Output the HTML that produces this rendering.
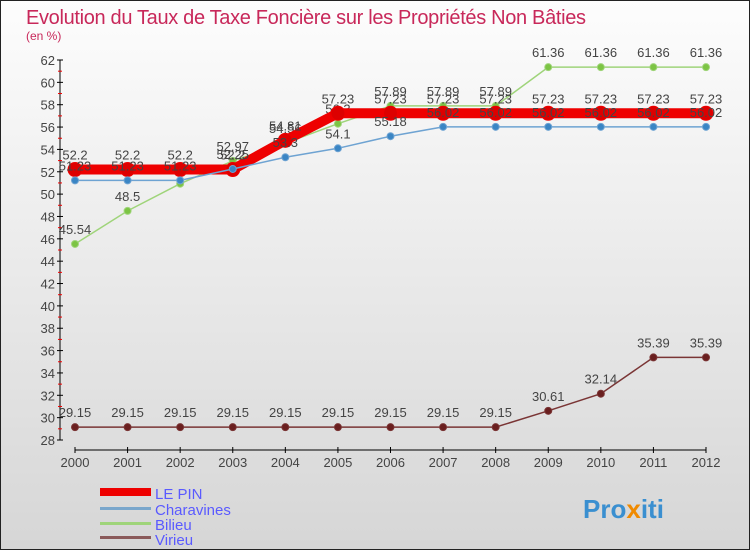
<!DOCTYPE html>
<html><head><meta charset="utf-8"><style>
body{margin:0;width:750px;height:550px;overflow:hidden;font-family:"Liberation Sans",sans-serif}
</style></head><body>
<svg id="chart" width="750" height="550" xmlns="http://www.w3.org/2000/svg">
<defs><linearGradient id="bg" x1="0" y1="0" x2="0" y2="1"><stop offset="0" stop-color="#fdfdfd"/><stop offset="1" stop-color="#d6d6d6"/></linearGradient></defs>
<rect x="0.5" y="0.5" width="749" height="549" fill="url(#bg)" stroke="#222"/>
<text x="26" y="24" font-size="20" fill="#c8285a" textLength="560" font-weight="300">Evolution du Taux de Taxe Foncière sur les Propriétés Non Bâties</text>
<text x="26" y="40" font-size="12" fill="#c8285a">(en %)</text>
<g id="axes"></g><g id="series"></g>
<g>
<rect x="100" y="488" width="51" height="8" fill="#e00"/>
<text x="155" y="499" font-size="15" fill="#5a5aff">LE PIN</text>
<rect x="100" y="507" width="51" height="3" fill="#7aa7cc"/>
<text x="155" y="515" font-size="15" fill="#5a5aff">Charavines</text>
<rect x="100" y="522" width="51" height="3" fill="#9fd47a"/>
<text x="155" y="530" font-size="15" fill="#5a5aff">Bilieu</text>
<rect x="100" y="536" width="51" height="3" fill="#8a5a5a"/>
<text x="155" y="545" font-size="15" fill="#5a5aff">Virieu</text>
</g>
<text x="583" y="518" font-size="26" font-weight="bold" fill="#3a8fd0">Pro<tspan fill="#f08a00">x</tspan>iti</text>
</svg>
<script>
const years=[2000,2001,2002,2003,2004,2005,2006,2007,2008,2009,2010,2011,2012];
const lePin=[52.2,52.2,52.2,52.2,54.81,57.23,57.23,57.23,57.23,57.23,57.23,57.23,57.23];
const charavines=[51.23,51.23,51.23,52.25,53.3,54.1,55.18,56.02,56.02,56.02,56.02,56.02,56.02];
const bilieu=[45.54,48.5,50.93,52.97,54.56,56.3,57.89,57.89,57.89,61.36,61.36,61.36,61.36];
const virieu=[29.15,29.15,29.15,29.15,29.15,29.15,29.15,29.15,29.15,30.61,32.14,35.39,35.39];
const yTicks=[28,30,32,34,36,38,40,42,44,46,48,50,52,54,56,58,60,62];
const NS="http://www.w3.org/2000/svg";
const xs=i=>75+i*(706-75)/(years.length-1);
const ys=v=>440-(v-28)*(380/34);
function mk(t,a,p){const e=document.createElementNS(NS,t);for(const k in a)e.setAttribute(k,a[k]);p.appendChild(e);return e;}
const ax=document.getElementById('axes');
const yl=mk('line',{x1:60,y1:ys(62),x2:60,y2:ys(28),stroke:'#000'},ax);


yTicks.forEach(v=>{
 mk('line',{x1:57,x2:63,y1:ys(v),y2:ys(v),stroke:'#000'},ax);
 if(v<62)mk('line',{x1:58,x2:62,y1:ys(v+1),y2:ys(v+1),stroke:'#e00'},ax);
 const t=mk('text',{x:55,y:ys(v)+5,'font-size':13,fill:'#444','text-anchor':'end'},ax);t.textContent=v;
 
 
});
const xl=mk('line',{x1:75,y1:450,x2:706,y2:450,stroke:'#000'},ax);


years.forEach((y,i)=>{
 mk('line',{x1:xs(i),x2:xs(i),y1:447,y2:453,stroke:'#000'},ax);
 const t=mk('text',{x:xs(i),y:467,'font-size':13,fill:'#444','text-anchor':'middle'},ax);t.textContent=y;
 
 
});
const sg=document.getElementById('series');
function series(name,vals,color,w,r,dot){
 const g=mk('g',{},sg);
 
 
 mk('polyline',{points:vals.map((v,i)=>xs(i)+','+ys(v)).join(' '),fill:'none',stroke:color,'stroke-width':w},g);
 vals.forEach((v,i)=>{
  const c=mk('circle',{cx:xs(i),cy:ys(v),r:r,fill:dot,stroke:color,'stroke-width':1},g);
  
  
  const t=mk('text',{x:xs(i),y:ys(v)-10,'font-size':13,fill:'#444','text-anchor':'middle'},g);t.textContent=v;
  
  
 });
}
series('virieu',virieu,'#7a3535',1.5,3.5,'#6a1f1f');
series('bilieu',bilieu,'#9fd47a',1.5,3.5,'#7cc444');
series('le-pin',lePin,'#ee0000',10,7,'#dd0000');
series('charavines',charavines,'#6ea3d2',1.5,3.5,'#3a85c4');
</script>
</body></html>
